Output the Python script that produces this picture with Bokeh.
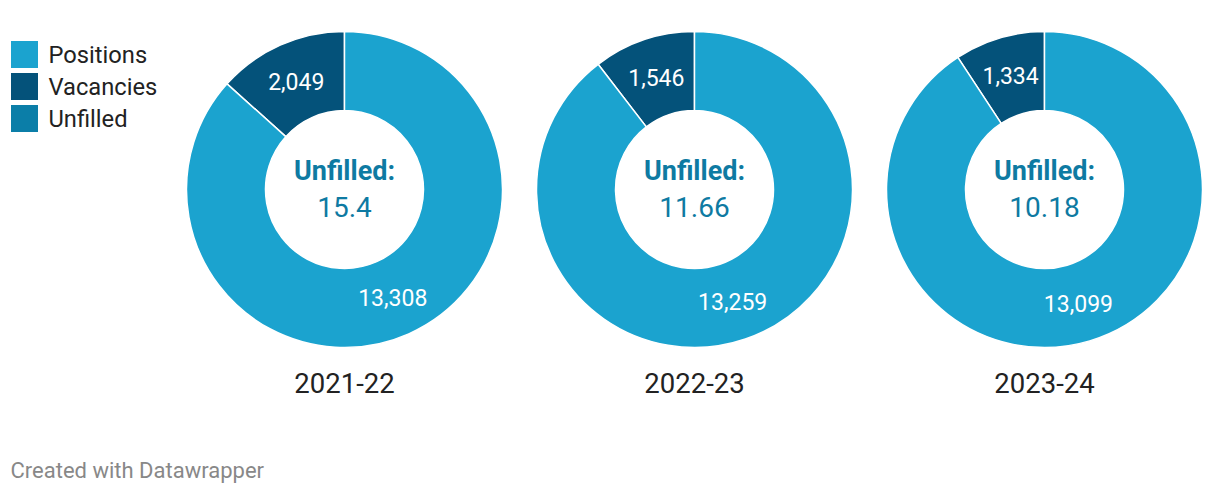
import numpy as np
from bokeh.plotting import figure
from bokeh.models import Range1d, ColumnDataSource
from bokeh.core.properties import value
from bokeh.embed import file_html
from bokeh.resources import INLINE

# ---- data ----
years = ["2021-22", "2022-23", "2023-24"]
vacancies = [2049, 1546, 1334]
positions = [13308, 13259, 13099]
unfilled = ["15.4", "11.66", "10.18"]
legend_labels = ["Positions", "Vacancies", "Unfilled"]

C_POS = "#1ba3cf"
C_VAC = "#04527a"
C_UNF = "#0b7ea8"
C_CENTER = "#0e7aa2"

W, H = 1220, 494
p = figure(width=W, height=H, output_backend="svg", toolbar_location=None,
           x_range=Range1d(0, W), y_range=Range1d(0, H), min_border=0,
           outline_line_color=None, background_fill_color="white", border_fill_color="white")
p.axis.visible = False
p.grid.visible = False

FONT = value("Roboto")
cx0, dx = 344, 350
cy = H - 189
r_out, r_in = 158, 79

for i, yr in enumerate(years):
    cx = cx0 + i * dx
    total = vacancies[i] + positions[i]
    fracs = np.array([vacancies[i], positions[i]]) / total
    ends = np.pi / 2 + np.cumsum(fracs) * 2 * np.pi
    starts = np.concatenate([[np.pi / 2], ends[:-1]])
    src = ColumnDataSource(dict(start=starts, end=ends, color=[C_VAC, C_POS],
                                label=[f"{vacancies[i]:,}", f"{positions[i]:,}"]))
    p.annular_wedge(x=cx, y=cy, inner_radius=r_in, outer_radius=r_out,
                    start_angle="start", end_angle="end", fill_color="color",
                    line_color="white", line_width=1.5, source=src)
    mid = (starts + ends) / 2
    rm = (r_in + r_out) / 2
    p.text(x=cx + rm * np.cos(mid), y=cy + rm * np.sin(mid), text=src.data["label"],
           text_color="white", text_font=FONT, text_font_size="23px",
           text_align="center", text_baseline="middle")
    p.text(x=[cx], y=[cy + 19], text=["Unfilled:"], text_color=C_CENTER, text_font=FONT,
           text_font_style="bold", text_font_size="27px", text_align="center", text_baseline="middle")
    p.text(x=[cx], y=[cy - 17], text=[unfilled[i]], text_color=C_CENTER, text_font=FONT,
           text_font_size="28px", text_align="center", text_baseline="middle")
    p.text(x=[cx], y=[H - 382], text=[yr], text_color="#222222", text_font=FONT,
           text_font_size="27.5px", text_align="center", text_baseline="middle")

# legend
leg_cols = [C_POS, C_VAC, C_UNF]
ly = [H - 54 - 32 * k for k in range(3)]
p.rect(x=[24] * 3, y=ly, width=27, height=27, fill_color=leg_cols, line_color=None)
p.text(x=[48] * 3, y=ly, text=legend_labels, text_color="#222222", text_font=FONT,
       text_font_size="23.7px", text_align="left", text_baseline="middle")

# footer
p.text(x=[10], y=[H - 470], text=["Created with Datawrapper"], text_color="#888888",
       text_font=FONT, text_font_size="22px", text_align="left", text_baseline="middle")

open("out.html", "w").write(file_html(p, INLINE))
